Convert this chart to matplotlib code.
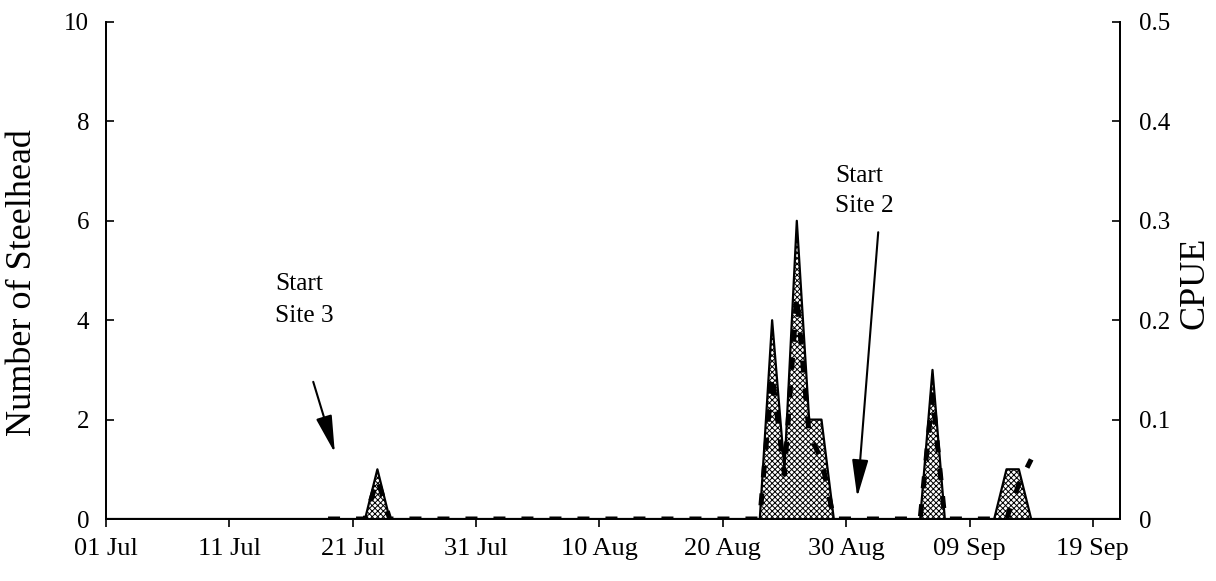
import matplotlib
matplotlib.use("Agg")
import matplotlib.pyplot as plt
import numpy as np

plt.rcParams['font.family'] = ['Liberation Serif', 'DejaVu Serif']
plt.rcParams['hatch.linewidth'] = 0.7

# Day offsets from 01 Jul
tick_days = [0, 10, 20, 30, 40, 50, 60, 70, 80]
tick_labels = ["01 Jul", "11 Jul", "21 Jul", "31 Jul", "10 Aug",
               "20 Aug", "30 Aug", "09 Sep", "19 Sep"]

# Daily number of steelhead, 01 Jul (day 0) .. 21 Sep (day 82)
steelhead = [
    0, 0, 0, 0, 0, 0, 0, 0, 0, 0,      # 01-10 Jul
    0, 0, 0, 0, 0, 0, 0, 0, 0, 0,      # 11-20 Jul
    0, 0, 1, 0, 0, 0, 0, 0, 0, 0,      # 21-30 Jul
    0, 0, 0, 0, 0, 0, 0, 0, 0, 0,      # 31 Jul - 09 Aug
    0, 0, 0, 0, 0, 0, 0, 0, 0, 0,      # 10-19 Aug
    0, 0, 0, 0, 4, 1, 6, 2, 2, 0,      # 20-29 Aug
    0, 0, 0, 0, 0, 0, 0, 3, 0, 0,      # 30 Aug - 08 Sep
    0, 0, 0, 1, 1, 0, 0, 0, 0, 0,      # 09-18 Sep
    0, 0, 0,                           # 19-21 Sep
]
steelhead_days = np.arange(len(steelhead))

# Daily CPUE, 19 Jul (day 18) .. 13 Sep (day 74)
cpue_start_day = 18
cpue = [
    0, 0, 0, 0, 0.04, 0, 0, 0, 0, 0,          # 19-28 Jul
    0, 0, 0, 0, 0, 0, 0, 0, 0, 0,             # 29 Jul - 07 Aug
    0, 0, 0, 0, 0, 0, 0, 0, 0, 0,             # 08-17 Aug
    0, 0, 0, 0, 0, 0, 0.145, 0.045, 0.225, 0.085,  # 18-27 Aug
    0.06, 0, 0, 0, 0, 0, 0, 0, 0, 0.125,      # 28 Aug - 06 Sep
    0, 0, 0, 0, 0, 0, 0.035, 0.06,            # 07-13 Sep
]
cpue_days = cpue_start_day + np.arange(len(cpue))

fig = plt.figure(figsize=(12.16, 5.81), dpi=100)
ax = fig.add_axes([106/1216, 62/581, (1120-106)/1216, (519-22)/581])

ax.fill_between(steelhead_days, steelhead, 0, facecolor='white',
                edgecolor='black', hatch='xxxxxx', linewidth=0, zorder=1)
ax.plot(steelhead_days, steelhead, color='black', lw=1.6, zorder=2)

ax.set_xlim(0, 82.2)
ax.set_ylim(0, 10)
ax.set_xticks(tick_days)
ax.set_xticklabels(tick_labels)
ax.set_yticks([0, 2, 4, 6, 8, 10])
ax.set_yticklabels(["0", "2", "4", "6", "8", "10"])

for s in ['left', 'bottom', 'right']:
    ax.spines[s].set_linewidth(1.3)
ax.spines['top'].set_visible(False)

ax.tick_params(axis='x', direction='out', length=6, width=1.2, pad=8, labelsize=19)
ax.tick_params(axis='y', direction='in', length=6, width=1.2, pad=12, labelsize=18)
ax.set_ylabel("Number of Steelhead", fontsize=26)
ax.yaxis.set_label_coords(-0.066, 0.475)

ax2 = ax.twinx()
ax2.plot(cpue_days, cpue, color='black', lw=3.6,
         linestyle=(0, (2.4, 3.2)), zorder=3)
ax2.set_ylim(0, 0.5)
ax2.set_yticks([0, 0.1, 0.2, 0.3, 0.4, 0.5])
ax2.set_yticklabels(["0", "0.1", "0.2", "0.3", "0.4", "0.5"])
ax2.spines['top'].set_visible(False)
for s in ['left', 'bottom', 'right']:
    ax2.spines[s].set_linewidth(1.3)
ax2.tick_params(axis='y', direction='in', length=6, width=1.2, pad=14, labelsize=18)
ax2.set_ylabel("CPUE", fontsize=26)
ax2.yaxis.set_label_coords(1.058, 0.475)

# Annotations
arrow_kw = dict(arrowstyle='-|>,head_length=2.3,head_width=0.5',
                color='black', lw=1.5, shrinkA=0, shrinkB=0)
ax.annotate("", xy=(18.55, 1.33), xytext=(16.8, 2.76), arrowprops=arrow_kw)
ax.annotate("", xy=(60.9, 0.44), xytext=(62.6, 5.77), arrowprops=arrow_kw)

ax.text(13.7, 4.61, "Start", fontsize=18.3, ha='left', va='baseline')
ax.text(13.7, 3.96, "Site 3", fontsize=18.3, ha='left', va='baseline')
ax.text(59.12, 6.78, "Start", fontsize=18.3, ha='left', va='baseline')
ax.text(59.12, 6.18, "Site 2", fontsize=18.3, ha='left', va='baseline')

fig.savefig("out.png", dpi=100)
